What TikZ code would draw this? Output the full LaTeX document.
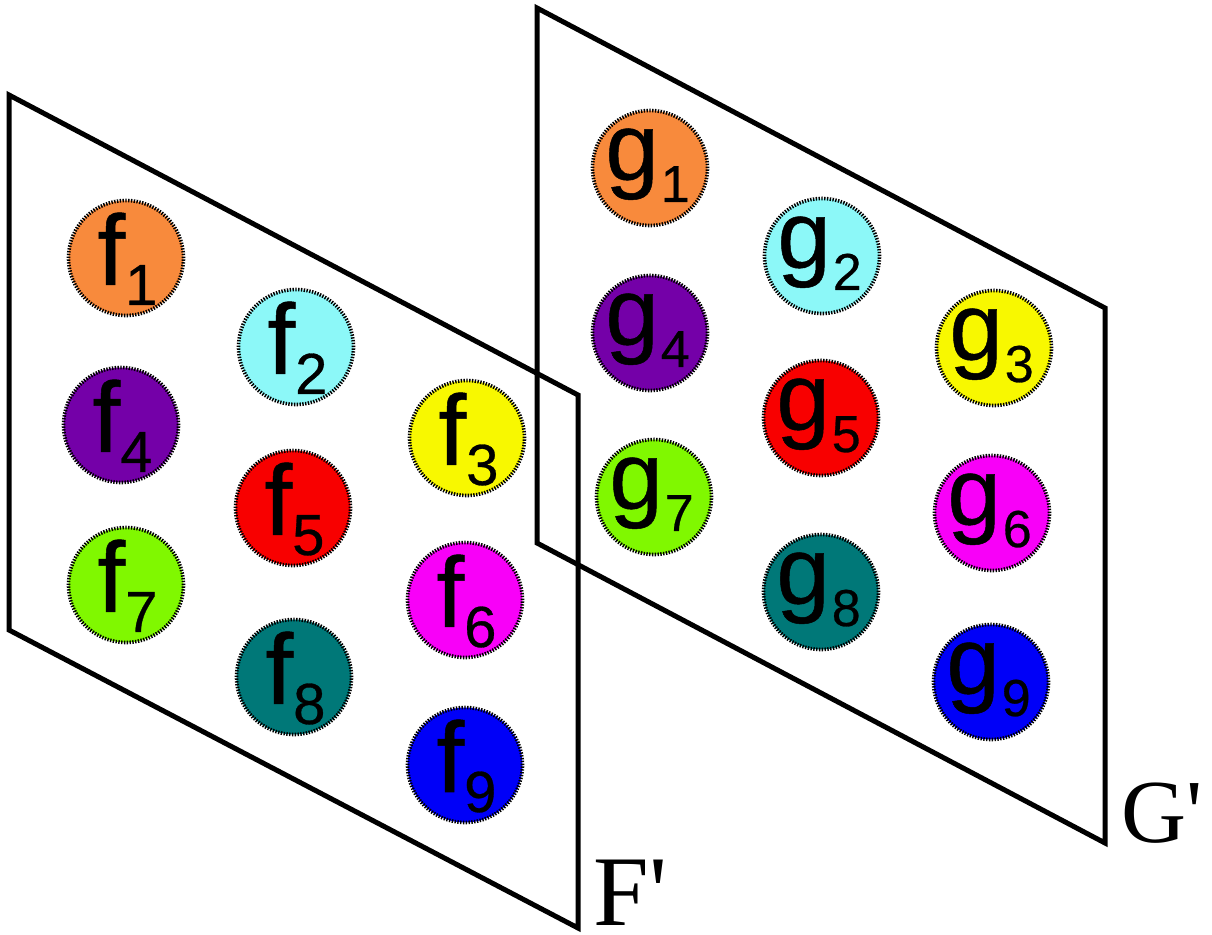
\documentclass[tikz,border=0pt]{standalone}
\usepackage{fontspec}
\newfontfamily\lblfont[FakeBold=0.5]{Liberation Sans}
\newfontfamily\planefont{Liberation Serif}
\definecolor{corange}{HTML}{F88A3C}
\definecolor{ccyan}{HTML}{8CF8F8}
\definecolor{cyellow}{HTML}{F8F800}
\definecolor{cpurple}{HTML}{7400A8}
\definecolor{cred}{HTML}{F80000}
\definecolor{cmagenta}{HTML}{F800F8}
\definecolor{clime}{HTML}{80F800}
\definecolor{cteal}{HTML}{007878}
\definecolor{cblue}{HTML}{0000F8}
\newcommand{\flab}[1]{{\lblfont\fontsize{50}{50}\selectfont f\raisebox{-10pt}{\fontsize{29}{29}\selectfont #1}}}
\newcommand{\glab}[1]{{\lblfont\fontsize{48}{48}\selectfont g\kern1pt\raisebox{-11pt}{\fontsize{26}{26}\selectfont #1}}}
\tikzset{
  ball/.style={circle, minimum size=57.5pt, inner sep=0pt, draw=black, line width=1.8pt, dash pattern=on 0.7pt off 0.7pt},
  plane/.style={draw=black, line width=2.5pt, line join=miter},
  lbl/.style={anchor=base west, inner sep=0pt, text=black}
}
\begin{document}
\begin{tikzpicture}[x=0.5pt,y=-0.5pt]
\useasboundingbox (0,0) rectangle (1212,935);
% planes
\coordinate (F1) at (9,95);
\coordinate (F2) at (578,395);
\coordinate (F3) at (578,928);
\coordinate (F4) at (9,630);
\coordinate (G1) at (537,8);
\coordinate (G2) at (1105,308);
\coordinate (G3) at (1105,843);
\coordinate (G4) at (537,543);
\draw[plane] (F1) -- (F2) -- (F3) -- (F4) -- cycle;
\draw[plane] (G1) -- (G2) -- (G3) -- (G4) -- cycle;
\node[lbl] (Fl) at (593,926) {\planefont\fontsize{50}{50}\selectfont F'};
\node[lbl] (Gl) at (1121,843) {\planefont\fontsize{45}{45}\selectfont G'};
% f balls
\foreach \n/\x/\y/\c in {1/126/258/corange,2/296/347/ccyan,3/467/438/cyellow,4/121/425/cpurple,5/293/508/cred,6/465/600/cmagenta,7/126/585/clime,8/294/677/cteal,9/465/765/cblue}{
  \node[ball, fill=\c] (f\n) at (\x,\y) {};
  \node[lbl] (fl\n) at (\x-29,\y+27) {\flab{\n}};
}
% g balls
\foreach \n/\x/\y/\c in {1/650/168/corange,2/822/256/ccyan,3/994/348/cyellow,4/650/333/cpurple,5/821/418/cred,6/992/513/cmagenta,7/654/497/clime,8/821/592/cteal,9/991/682/cblue}{
  \node[ball, fill=\c] (g\n) at (\x,\y) {};
  \node[lbl] (gl\n) at (\x-45,\y+12) {\glab{\n}};
}
\end{tikzpicture}
\end{document}
